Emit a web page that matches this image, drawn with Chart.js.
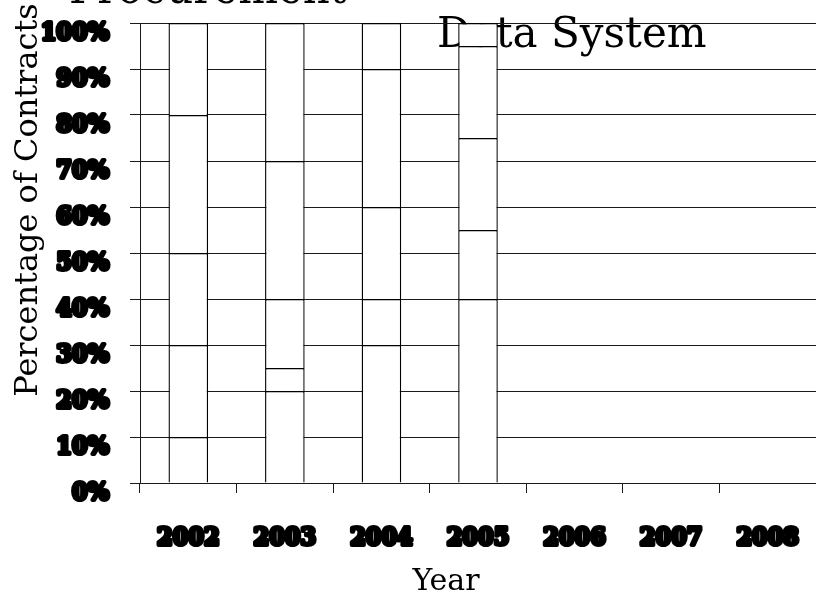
<!DOCTYPE html>
<html>
<head>
<meta charset="utf-8">
<title>Procurement Data System</title>
<script src="https://cdn.jsdelivr.net/npm/chart.js@4.4.1/dist/chart.umd.min.js"></script>
<style>
    html, body { margin: 0; padding: 0; background: #fff; }
    canvas { display: block; }
</style>
</head>
<body>
<canvas id="contractsChart" width="816" height="592"></canvas>
<script>
// Fiscal years on the x axis (only 2002-2005 have data)
const years = ["2002", "2003", "2004", "2005", "2006", "2007", "2008"];

// Stacked shares, bottom segment first (percent of contracts)
const band1 = [10, 20, 30, 40];
const band2 = [20, 5, 10, 15];
const band3 = [20, 15, 20, 20];
const band4 = [30, 30, 30, 20];
const band5 = [20, 30, 10, 5];

const titleLines = ["Procurement", "Data System"];
const xTitle = "Year";
const yTitle = "Percentage of Contracts";

const ink = "#1a1a1a";

/**
 * Draws the chart title and axis captions underneath the grid and bars
 */
const captions = {
    id: "captions",
    beforeDraw(chart) {
        const ctx = chart.ctx;
        ctx.save();
        ctx.fillStyle = "#000";
        ctx.textBaseline = "alphabetic";

        ctx.font = "42px 'DejaVu Serif'";
        ctx.textAlign = "left";
        ctx.fillText(titleLines[0], 69, 3);
        ctx.fillText(titleLines[1], 437, 47);

        ctx.font = "30px 'DejaVu Serif'";
        ctx.textAlign = "center";
        ctx.fillText(xTitle, 446, 590);

        ctx.translate(37, 200);
        ctx.rotate(-Math.PI / 2);
        ctx.font = "32px 'DejaVu Serif'";
        ctx.fillText(yTitle, 0, 0);
        ctx.restore();

        // heavy outlined tick labels: keep the outline corners round
        ctx.lineJoin = "round";
    },
};

function band(label, data) {
    return {
        label: label,
        data: data,
        backgroundColor: "#fff",
        borderColor: "#000",
        borderWidth: 1.4,
        categoryPercentage: 1,
        barPercentage: 0.41,
    };
}

const tickFont = {
    family: "'DejaVu Serif Condensed', 'DejaVu Serif', serif",
    size: 25,
    weight: "bold",
};

new Chart(document.getElementById("contractsChart").getContext("2d"), {
    type: "bar",
    data: {
        labels: years,
        datasets: [
            band("Band 1", band1),
            band("Band 2", band2),
            band("Band 3", band3),
            band("Band 4", band4),
            band("Band 5", band5),
        ],
    },
    options: {
        responsive: false,
        animation: false,
        layout: {
            padding: { top: 23, left: 0, right: 0, bottom: 0 },
        },
        plugins: {
            legend: { display: false },
            title: { display: false },
            tooltip: { enabled: false },
        },
        scales: {
            x: {
                stacked: true,
                afterFit(scale) {
                    scale.height = 109;
                    scale.paddingLeft = 0;
                    scale.paddingRight = 0;
                },
                grid: {
                    offset: true,
                    drawOnChartArea: false,
                    drawTicks: true,
                    tickLength: 10,
                    color: ink,
                },
                border: { color: ink },
                ticks: {
                    color: "#000",
                    font: tickFont,
                    padding: 30,
                    maxRotation: 0,
                    textStrokeColor: "#000",
                    textStrokeWidth: 4,
                },
            },
            y: {
                stacked: true,
                min: 0,
                max: 100,
                afterFit(scale) {
                    scale.width = 140;
                    scale.paddingTop = 0;
                    scale.paddingBottom = 0;
                },
                grid: {
                    color: ink,
                    tickLength: 10,
                },
                border: { color: ink },
                ticks: {
                    stepSize: 10,
                    color: "#000",
                    font: tickFont,
                    padding: 21,
                    labelOffset: 10,
                    textStrokeColor: "#000",
                    textStrokeWidth: 4,
                    callback: (value) => value + "%",
                },
            },
        },
    },
    plugins: [captions],
});
</script>
</body>
</html>
